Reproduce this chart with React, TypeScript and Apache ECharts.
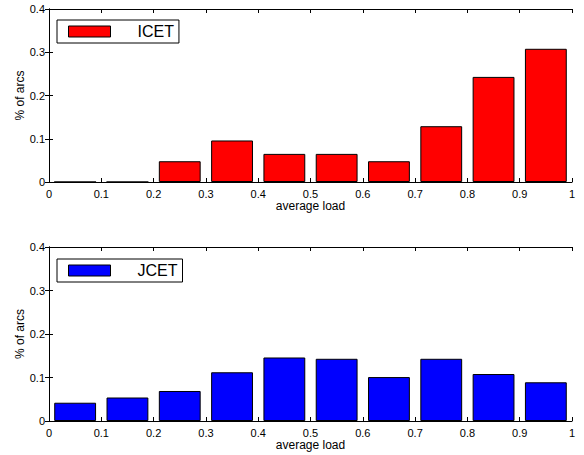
import React, { useEffect, useRef } from "react";
import * as echarts from "echarts";

const bins = ["0-0.1", "0.1-0.2", "0.2-0.3", "0.3-0.4", "0.4-0.5", "0.5-0.6", "0.6-0.7", "0.7-0.8", "0.8-0.9", "0.9-1"];
const icetValues = [0, 0, 0.048, 0.096, 0.065, 0.065, 0.048, 0.129, 0.243, 0.308];
const jcetValues = [0.042, 0.054, 0.069, 0.112, 0.146, 0.143, 0.101, 0.143, 0.108, 0.089];
const seriesNames = ["ICET", "JCET"];
const seriesColors = ["#ff0000", "#0000ff"];

const FONT = "'Liberation Sans', Arial, Helvetica, sans-serif";

const fmtX = (v: number) => (Math.abs(v) < 1e-9 ? "0" : Math.abs(v - 1) < 1e-9 ? "1" : v.toFixed(1));
const fmtY = (v: number) => (Math.abs(v) < 1e-9 ? "0" : v.toFixed(1));

export default function App() {
  const ref = useRef<HTMLDivElement>(null);
  useEffect(() => {
    if (!ref.current) return;
    const chart = echarts.init(ref.current, null, { renderer: "svg" });
    const grids = [
      { left: 49, right: 12, top: 9, height: 173 },
      { left: 49, right: 12, top: 247, height: 174 },
    ];
    const axisLine = { show: true, lineStyle: { color: "#000", width: 1 } };
    const tick = { show: true, inside: true, length: 4, lineStyle: { color: "#000", width: 1 } };
    const xAxes: any[] = [];
    const yAxes: any[] = [];
    const series: any[] = [];
    const legends: any[] = [];
    const data = [icetValues, jcetValues];
    const legendTops = [20, 259];
    grids.forEach((g, i) => {
      xAxes.push({
        type: "category",
        gridIndex: i,
        data: bins,
        show: false,
        boundaryGap: true,
      });
      xAxes.push({
        type: "value",
        gridIndex: i,
        position: "bottom",
        min: 0,
        max: 1,
        interval: 0.1,
        axisLine,
        axisTick: tick,
        splitLine: { show: false },
        axisLabel: { color: "#000", fontSize: 11, fontFamily: FONT, margin: 6, formatter: fmtX },
        name: "average load",
        nameLocation: "middle",
        nameGap: 18,
        nameMoveOverlap: false,
        nameTextStyle: { color: "#000", fontSize: 12, fontFamily: FONT },
      });
      xAxes.push({
        type: "value",
        gridIndex: i,
        position: "top",
        min: 0,
        max: 1,
        interval: 0.1,
        axisLine,
        axisTick: tick,
        splitLine: { show: false },
        axisLabel: { show: false },
      });
      yAxes.push({
        type: "value",
        gridIndex: i,
        position: "left",
        min: 0,
        max: 0.4,
        interval: 0.1,
        axisLine,
        axisTick: tick,
        splitLine: { show: false },
        axisLabel: { color: "#000", fontSize: 11, fontFamily: FONT, margin: 4, formatter: fmtY },
        name: "% of arcs",
        nameLocation: "middle",
        nameGap: 23,
        nameMoveOverlap: false,
        nameTextStyle: { color: "#000", fontSize: 12, fontFamily: FONT },
      });
      yAxes.push({
        type: "value",
        gridIndex: i,
        position: "right",
        min: 0,
        max: 0.4,
        interval: 0.1,
        axisLine,
        axisTick: tick,
        splitLine: { show: false },
        axisLabel: { show: false },
      });
      series.push({
        type: "bar",
        name: seriesNames[i],
        xAxisIndex: i * 3,
        yAxisIndex: i * 2,
        data: data[i],
        barCategoryGap: "20%",
        itemStyle: { color: seriesColors[i], borderColor: "#000", borderWidth: 1 },
      });
      legends.push({
        data: [seriesNames[i]],
        left: 57,
        top: legendTops[i],
        orient: "horizontal",
        itemWidth: 42,
        itemHeight: 11,
        padding: [3, 5, 3, 11],
        borderColor: "#000",
        borderWidth: 1,
        backgroundColor: "#fff",
        icon: "rect",
        selectedMode: false,
        itemStyle: { borderColor: "#000", borderWidth: 1 },
        textStyle: { color: "#000", fontSize: 16, lineHeight: 17, fontFamily: FONT, padding: [0, 0, 0, 22] },
      });
    });
    chart.setOption({
      animation: false,
      backgroundColor: "#fff",
      grid: grids,
      xAxis: xAxes,
      yAxis: yAxes,
      series,
      legend: legends,
    });
    return () => chart.dispose();
  }, []);
  return (
    <div
      ref={ref}
      style={{ position: "absolute", left: 0, top: 0, width: 584, height: 455 }}
    />
  );
}
